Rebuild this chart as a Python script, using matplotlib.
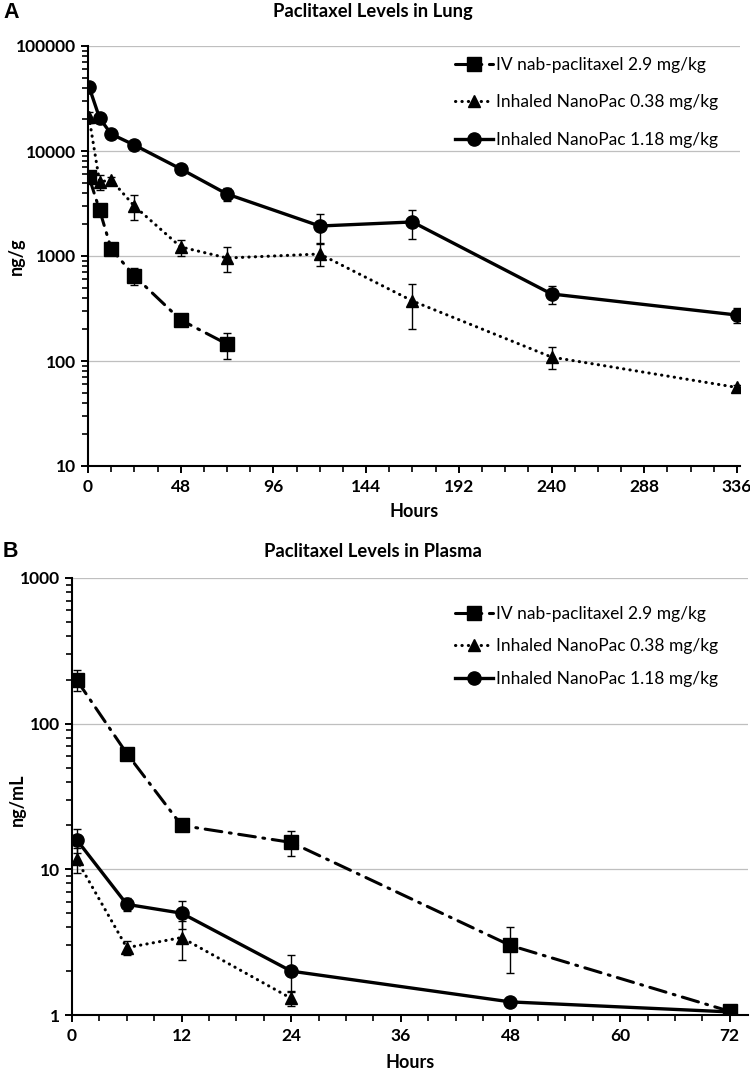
import numpy as np
from matplotlib import pyplot as plt
from matplotlib.ticker import FixedLocator, MultipleLocator, LogLocator, NullFormatter

plt.rcParams['font.family'] = ['Lato', 'DejaVu Sans']

# Panel A - lung (ng/g)
t_lung_iv = [0.5, 6, 12, 24, 48, 72]
lung_iv = [5650, 2740, 1170, 646, 246, 145]
lung_iv_err = [500, 250, 80, 120, 30, 40]

t_lung = [0.5, 6, 12, 24, 48, 72, 120, 168, 240, 336]
lung_low = [21100, 5070, 5300, 2990, 1220, 957, 1045, 373, 109, 56]
lung_low_err = [2500, 850, 400, 800, 210, 250, 250, 170, 26, 3]
lung_high = [41000, 20600, 14500, 11400, 6750, 3890, 1930, 2110, 435, 274]
lung_high_err = [2000, 2000, 800, 500, 300, 550, 600, 650, 85, 45]

# Panel B - plasma (ng/mL)
t_pl_iv = [0.5, 6, 12, 24, 48, 72]
pl_iv = [200, 62.4, 20, 15.3, 3.0, 1.06]
pl_iv_err = [32, 5, 1.5, 3, 1.05, 0.05]

t_pl_low = [0.5, 6, 12, 24]
pl_low = [11.7, 2.9, 3.4, 1.3]
pl_low_err = [2.3, 0.3, 1.0, 0.15]

t_pl_high = [0.5, 6, 12, 24, 48, 72]
pl_high = [16.0, 5.75, 5.0, 2.0, 1.23, 1.05]
pl_high_err = [3.0, 0.6, 1.1, 0.57, 0.03, 0.03]

labels = ['IV nab-paclitaxel 2.9 mg/kg', 'Inhaled NanoPac 0.38 mg/kg', 'Inhaled NanoPac 1.18 mg/kg']


def draw_series(ax, t, y, err, marker, ms, style, label):
    ax.errorbar(t, y, yerr=err, fmt='none', ecolor='black', elinewidth=1, capsize=3, capthick=1, zorder=3)
    if style == 'dashdot':
        ax.plot(t, y, color='black', lw=2.2, marker=marker, ms=ms, dashes=(5.5, 2.5, 0.6, 2.5),
                dash_capstyle='round', label=label, zorder=4)
    elif style == 'dotted':
        ax.plot(t, y, color='black', lw=2.2, marker=marker, ms=ms, dashes=(0.1, 2.0),
                dash_capstyle='round', label=label, zorder=4)
    else:
        ax.plot(t, y, color='black', lw=2.4, marker=marker, ms=ms, label=label, zorder=4)


def style_axes(ax, xmax, xmajor, xminor, ymin, ymax, xpad):
    ax.set_yscale('log')
    ax.set_ylim(ymin, ymax)
    ax.set_xlim(0, xmax)
    ax.xaxis.set_major_locator(FixedLocator(np.arange(0, xmax, xmajor)))
    ax.xaxis.set_minor_locator(MultipleLocator(xminor))
    ax.yaxis.set_major_locator(LogLocator(base=10, numticks=10))
    ax.yaxis.set_minor_locator(LogLocator(base=10, subs=np.arange(2, 10), numticks=10))
    ax.yaxis.set_minor_formatter(NullFormatter())
    ax.yaxis.set_major_formatter(plt.FuncFormatter(lambda v, p: '{:d}'.format(int(round(v)))))
    ax.grid(True, which='major', axis='y', color='#BFBFBF', lw=0.9, zorder=0)
    for s in ['top', 'right']:
        ax.spines[s].set_visible(False)
    for s in ['left', 'bottom']:
        ax.spines[s].set_linewidth(1.5)
    ax.tick_params(which='major', direction='out', length=5, width=1.4, labelsize=12.5)
    ax.tick_params(which='minor', direction='out', length=4, width=1.2)
    ax.tick_params(axis='x', which='major', pad=xpad)
    for lab in ax.get_xticklabels() + ax.get_yticklabels():
        lab.set_fontweight('bold')


fig = plt.figure(figsize=(7.5, 10.71), dpi=100)

# Panel A
ax1 = fig.add_axes([88 / 750, 1 - 466 / 1071, 652 / 750, 420 / 1071])
draw_series(ax1, t_lung_iv, lung_iv, lung_iv_err, 's', 9.5, 'dashdot', labels[0])
draw_series(ax1, t_lung, lung_low, lung_low_err, '^', 8.5, 'dotted', labels[1])
draw_series(ax1, t_lung, lung_high, lung_high_err, 'o', 9.5, 'solid', labels[2])
style_axes(ax1, 337.6, 48, 12, 10, 100000, 4)
ax1.legend(loc='upper left', bbox_to_anchor=(446 / 750, 1 - 48 / 1071), bbox_transform=fig.transFigure,
           frameon=False, fontsize=12.5, handlelength=2.2, handletextpad=0.2, labelspacing=1.25, borderpad=0)
fig.text(414 / 750, 1 - 511 / 1071, 'Hours', ha='center', va='center', fontsize=13, fontweight='bold')
fig.text(16 / 750, 1 - 256 / 1071, 'ng/g', rotation=90, ha='center', va='center',
         fontsize=13, fontweight='bold')
fig.text(373 / 750, 1 - 12 / 1071, 'Paclitaxel Levels in Lung', ha='center', va='center',
         fontsize=13.2, fontweight='bold')
fig.text(3 / 750, 1 - 12 / 1071, 'A', ha='left', va='center', fontsize=15.5, fontweight='bold',
         family='Liberation Sans')

# Panel B
ax2 = fig.add_axes([72 / 750, 1 - 1015 / 1071, 676 / 750, 437 / 1071])
draw_series(ax2, t_pl_iv, pl_iv, pl_iv_err, 's', 9.5, 'dashdot', labels[0])
draw_series(ax2, t_pl_low, pl_low, pl_low_err, '^', 8.5, 'dotted', labels[1])
draw_series(ax2, t_pl_high, pl_high, pl_high_err, 'o', 9.5, 'solid', labels[2])
style_axes(ax2, 74, 12, 3, 1, 1000, 4.5)
ax2.legend(loc='upper left', bbox_to_anchor=(446 / 750, 1 - 597 / 1071), bbox_transform=fig.transFigure,
           frameon=False, fontsize=12.5, handlelength=2.2, handletextpad=0.2, labelspacing=0.95, borderpad=0)
fig.text(410 / 750, 1 - 1062 / 1071, 'Hours', ha='center', va='center', fontsize=13, fontweight='bold')
fig.text(17 / 750, 1 - 800 / 1071, 'ng/mL', rotation=90, ha='center', va='center',
         fontsize=13, fontweight='bold')
fig.text(373 / 750, 1 - 552 / 1071, 'Paclitaxel Levels in Plasma', ha='center', va='center',
         fontsize=13.2, fontweight='bold')
fig.text(3 / 750, 1 - 552 / 1071, 'B', ha='left', va='center', fontsize=15.5, fontweight='bold',
         family='Liberation Sans')

fig.savefig('out.png', dpi=100)
